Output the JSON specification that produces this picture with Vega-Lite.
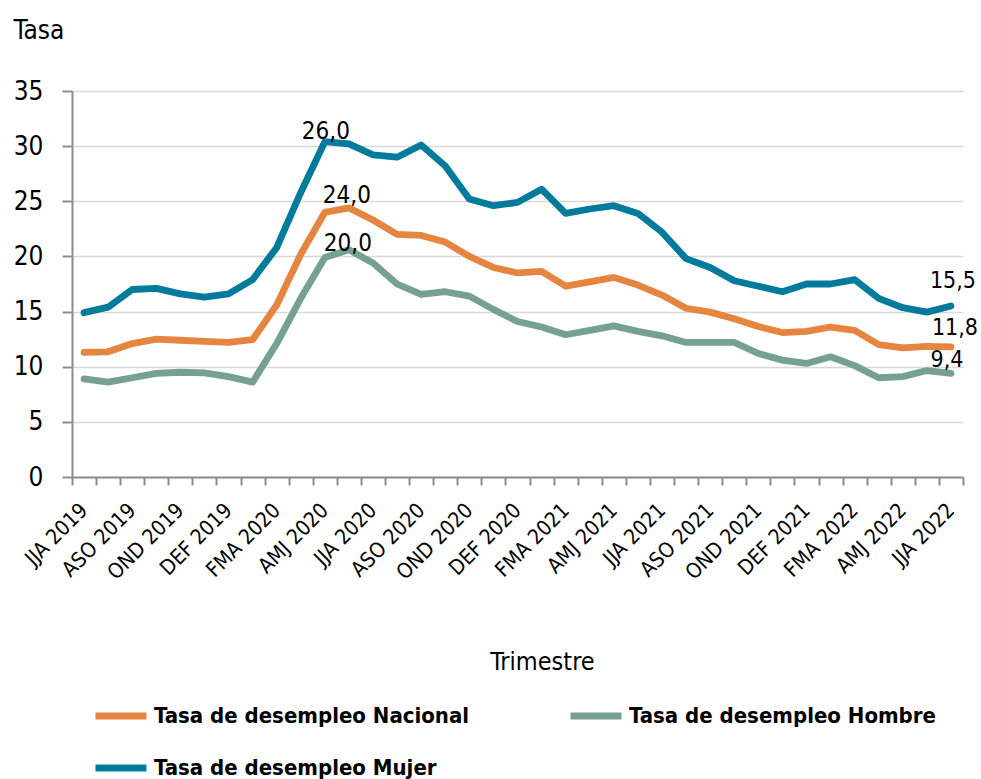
{
  "$schema": "https://vega.github.io/schema/vega-lite/v6.json",
  "width": 891,
  "height": 386,
  "autosize": {"type": "none"},
  "padding": {"left": 72, "top": 91, "right": 18, "bottom": 302},
  "background": "white",
  "config": {
    "view": {"stroke": null},
    "font": "Liberation Sans Narrow, DejaVu Sans Condensed, Liberation Sans, sans-serif"
  },
  "data": {
    "values": [
      {"t": "JJA 2019", "serie": "Tasa de desempleo Nacional", "v": 11.3},
      {"t": "JAS 2019", "serie": "Tasa de desempleo Nacional", "v": 11.35},
      {"t": "ASO 2019", "serie": "Tasa de desempleo Nacional", "v": 12.1},
      {"t": "SON 2019", "serie": "Tasa de desempleo Nacional", "v": 12.5},
      {"t": "OND 2019", "serie": "Tasa de desempleo Nacional", "v": 12.4},
      {"t": "NDE 2019", "serie": "Tasa de desempleo Nacional", "v": 12.3},
      {"t": "DEF 2019", "serie": "Tasa de desempleo Nacional", "v": 12.2},
      {"t": "EFM 2020", "serie": "Tasa de desempleo Nacional", "v": 12.45},
      {"t": "FMA 2020", "serie": "Tasa de desempleo Nacional", "v": 15.6},
      {"t": "MAM 2020", "serie": "Tasa de desempleo Nacional", "v": 20.2},
      {"t": "AMJ 2020", "serie": "Tasa de desempleo Nacional", "v": 24.0, "label": "24,0"},
      {"t": "MJJ 2020", "serie": "Tasa de desempleo Nacional", "v": 24.4},
      {"t": "JJA 2020", "serie": "Tasa de desempleo Nacional", "v": 23.3},
      {"t": "JAS 2020", "serie": "Tasa de desempleo Nacional", "v": 22.0},
      {"t": "ASO 2020", "serie": "Tasa de desempleo Nacional", "v": 21.9},
      {"t": "SON 2020", "serie": "Tasa de desempleo Nacional", "v": 21.3},
      {"t": "OND 2020", "serie": "Tasa de desempleo Nacional", "v": 20.0},
      {"t": "NDE 2020", "serie": "Tasa de desempleo Nacional", "v": 19.0},
      {"t": "DEF 2020", "serie": "Tasa de desempleo Nacional", "v": 18.5},
      {"t": "EFM 2021", "serie": "Tasa de desempleo Nacional", "v": 18.65},
      {"t": "FMA 2021", "serie": "Tasa de desempleo Nacional", "v": 17.3},
      {"t": "MAM 2021", "serie": "Tasa de desempleo Nacional", "v": 17.7},
      {"t": "AMJ 2021", "serie": "Tasa de desempleo Nacional", "v": 18.1},
      {"t": "MJJ 2021", "serie": "Tasa de desempleo Nacional", "v": 17.4},
      {"t": "JJA 2021", "serie": "Tasa de desempleo Nacional", "v": 16.5},
      {"t": "JAS 2021", "serie": "Tasa de desempleo Nacional", "v": 15.3},
      {"t": "ASO 2021", "serie": "Tasa de desempleo Nacional", "v": 14.95},
      {"t": "SON 2021", "serie": "Tasa de desempleo Nacional", "v": 14.35},
      {"t": "OND 2021", "serie": "Tasa de desempleo Nacional", "v": 13.65},
      {"t": "NDE 2021", "serie": "Tasa de desempleo Nacional", "v": 13.1},
      {"t": "DEF 2021", "serie": "Tasa de desempleo Nacional", "v": 13.2},
      {"t": "EFM 2022", "serie": "Tasa de desempleo Nacional", "v": 13.6},
      {"t": "FMA 2022", "serie": "Tasa de desempleo Nacional", "v": 13.3},
      {"t": "MAM 2022", "serie": "Tasa de desempleo Nacional", "v": 12.0},
      {"t": "AMJ 2022", "serie": "Tasa de desempleo Nacional", "v": 11.7},
      {"t": "MJJ 2022", "serie": "Tasa de desempleo Nacional", "v": 11.85},
      {"t": "JJA 2022", "serie": "Tasa de desempleo Nacional", "v": 11.8, "label": "11,8"},
      {"t": "JJA 2019", "serie": "Tasa de desempleo Hombre", "v": 8.9},
      {"t": "JAS 2019", "serie": "Tasa de desempleo Hombre", "v": 8.6},
      {"t": "ASO 2019", "serie": "Tasa de desempleo Hombre", "v": 9.0},
      {"t": "SON 2019", "serie": "Tasa de desempleo Hombre", "v": 9.4},
      {"t": "OND 2019", "serie": "Tasa de desempleo Hombre", "v": 9.5},
      {"t": "NDE 2019", "serie": "Tasa de desempleo Hombre", "v": 9.45},
      {"t": "DEF 2019", "serie": "Tasa de desempleo Hombre", "v": 9.1},
      {"t": "EFM 2020", "serie": "Tasa de desempleo Hombre", "v": 8.6},
      {"t": "FMA 2020", "serie": "Tasa de desempleo Hombre", "v": 12.1},
      {"t": "MAM 2020", "serie": "Tasa de desempleo Hombre", "v": 16.2},
      {"t": "AMJ 2020", "serie": "Tasa de desempleo Hombre", "v": 19.9, "label": "20,0"},
      {"t": "MJJ 2020", "serie": "Tasa de desempleo Hombre", "v": 20.6},
      {"t": "JJA 2020", "serie": "Tasa de desempleo Hombre", "v": 19.4},
      {"t": "JAS 2020", "serie": "Tasa de desempleo Hombre", "v": 17.5},
      {"t": "ASO 2020", "serie": "Tasa de desempleo Hombre", "v": 16.55},
      {"t": "SON 2020", "serie": "Tasa de desempleo Hombre", "v": 16.8},
      {"t": "OND 2020", "serie": "Tasa de desempleo Hombre", "v": 16.4},
      {"t": "NDE 2020", "serie": "Tasa de desempleo Hombre", "v": 15.2},
      {"t": "DEF 2020", "serie": "Tasa de desempleo Hombre", "v": 14.1},
      {"t": "EFM 2021", "serie": "Tasa de desempleo Hombre", "v": 13.6},
      {"t": "FMA 2021", "serie": "Tasa de desempleo Hombre", "v": 12.9},
      {"t": "MAM 2021", "serie": "Tasa de desempleo Hombre", "v": 13.3},
      {"t": "AMJ 2021", "serie": "Tasa de desempleo Hombre", "v": 13.7},
      {"t": "MJJ 2021", "serie": "Tasa de desempleo Hombre", "v": 13.2},
      {"t": "JJA 2021", "serie": "Tasa de desempleo Hombre", "v": 12.8},
      {"t": "JAS 2021", "serie": "Tasa de desempleo Hombre", "v": 12.2},
      {"t": "ASO 2021", "serie": "Tasa de desempleo Hombre", "v": 12.2},
      {"t": "SON 2021", "serie": "Tasa de desempleo Hombre", "v": 12.2},
      {"t": "OND 2021", "serie": "Tasa de desempleo Hombre", "v": 11.2},
      {"t": "NDE 2021", "serie": "Tasa de desempleo Hombre", "v": 10.6},
      {"t": "DEF 2021", "serie": "Tasa de desempleo Hombre", "v": 10.3},
      {"t": "EFM 2022", "serie": "Tasa de desempleo Hombre", "v": 10.9},
      {"t": "FMA 2022", "serie": "Tasa de desempleo Hombre", "v": 10.1},
      {"t": "MAM 2022", "serie": "Tasa de desempleo Hombre", "v": 9.0},
      {"t": "AMJ 2022", "serie": "Tasa de desempleo Hombre", "v": 9.1},
      {"t": "MJJ 2022", "serie": "Tasa de desempleo Hombre", "v": 9.65},
      {"t": "JJA 2022", "serie": "Tasa de desempleo Hombre", "v": 9.4, "label": "9,4"},
      {"t": "JJA 2019", "serie": "Tasa de desempleo Mujer", "v": 14.9},
      {"t": "JAS 2019", "serie": "Tasa de desempleo Mujer", "v": 15.4},
      {"t": "ASO 2019", "serie": "Tasa de desempleo Mujer", "v": 17.0},
      {"t": "SON 2019", "serie": "Tasa de desempleo Mujer", "v": 17.1},
      {"t": "OND 2019", "serie": "Tasa de desempleo Mujer", "v": 16.6},
      {"t": "NDE 2019", "serie": "Tasa de desempleo Mujer", "v": 16.3},
      {"t": "DEF 2019", "serie": "Tasa de desempleo Mujer", "v": 16.6},
      {"t": "EFM 2020", "serie": "Tasa de desempleo Mujer", "v": 17.9},
      {"t": "FMA 2020", "serie": "Tasa de desempleo Mujer", "v": 20.8},
      {"t": "MAM 2020", "serie": "Tasa de desempleo Mujer", "v": 25.8},
      {"t": "AMJ 2020", "serie": "Tasa de desempleo Mujer", "v": 30.4, "label": "26,0"},
      {"t": "MJJ 2020", "serie": "Tasa de desempleo Mujer", "v": 30.2},
      {"t": "JJA 2020", "serie": "Tasa de desempleo Mujer", "v": 29.2},
      {"t": "JAS 2020", "serie": "Tasa de desempleo Mujer", "v": 29.0},
      {"t": "ASO 2020", "serie": "Tasa de desempleo Mujer", "v": 30.1},
      {"t": "SON 2020", "serie": "Tasa de desempleo Mujer", "v": 28.2},
      {"t": "OND 2020", "serie": "Tasa de desempleo Mujer", "v": 25.2},
      {"t": "NDE 2020", "serie": "Tasa de desempleo Mujer", "v": 24.6},
      {"t": "DEF 2020", "serie": "Tasa de desempleo Mujer", "v": 24.9},
      {"t": "EFM 2021", "serie": "Tasa de desempleo Mujer", "v": 26.1},
      {"t": "FMA 2021", "serie": "Tasa de desempleo Mujer", "v": 23.9},
      {"t": "MAM 2021", "serie": "Tasa de desempleo Mujer", "v": 24.3},
      {"t": "AMJ 2021", "serie": "Tasa de desempleo Mujer", "v": 24.6},
      {"t": "MJJ 2021", "serie": "Tasa de desempleo Mujer", "v": 23.9},
      {"t": "JJA 2021", "serie": "Tasa de desempleo Mujer", "v": 22.2},
      {"t": "JAS 2021", "serie": "Tasa de desempleo Mujer", "v": 19.8},
      {"t": "ASO 2021", "serie": "Tasa de desempleo Mujer", "v": 19.0},
      {"t": "SON 2021", "serie": "Tasa de desempleo Mujer", "v": 17.8},
      {"t": "OND 2021", "serie": "Tasa de desempleo Mujer", "v": 17.3},
      {"t": "NDE 2021", "serie": "Tasa de desempleo Mujer", "v": 16.8},
      {"t": "DEF 2021", "serie": "Tasa de desempleo Mujer", "v": 17.5},
      {"t": "EFM 2022", "serie": "Tasa de desempleo Mujer", "v": 17.5},
      {"t": "FMA 2022", "serie": "Tasa de desempleo Mujer", "v": 17.9},
      {"t": "MAM 2022", "serie": "Tasa de desempleo Mujer", "v": 16.2},
      {"t": "AMJ 2022", "serie": "Tasa de desempleo Mujer", "v": 15.35},
      {"t": "MJJ 2022", "serie": "Tasa de desempleo Mujer", "v": 14.95},
      {"t": "JJA 2022", "serie": "Tasa de desempleo Mujer", "v": 15.5, "label": "15,5"}
    ]
  },
  "encoding": {
    "x": {
      "field": "t",
      "type": "ordinal",
      "scale": {
        "type": "band",
        "paddingInner": 0,
        "paddingOuter": 0,
        "domain": ["JJA 2019","JAS 2019","ASO 2019","SON 2019","OND 2019","NDE 2019","DEF 2019","EFM 2020","FMA 2020","MAM 2020","AMJ 2020","MJJ 2020","JJA 2020","JAS 2020","ASO 2020","SON 2020","OND 2020","NDE 2020","DEF 2020","EFM 2021","FMA 2021","MAM 2021","AMJ 2021","MJJ 2021","JJA 2021","JAS 2021","ASO 2021","SON 2021","OND 2021","NDE 2021","DEF 2021","EFM 2022","FMA 2022","MAM 2022","AMJ 2022","MJJ 2022","JJA 2022"]
      },
      "axis": {
        "title": "Trimestre",
        "titleFontSize": 25,
        "titleFontWeight": "normal",
        "titleColor": "#000000",
        "titleX": 470,
        "titleY": 192,
        "titleAlign": "center",
        "titleBaseline": "alphabetic",
        "labelExpr": "test(/^(JJA|ASO|OND|DEF|FMA|AMJ)/, datum.value) ? datum.value : ''",
        "labelAngle": -45,
        "labelAlign": "right",
        "labelBaseline": "middle",
        "labelFontSize": 21,
        "labelColor": "#000000",
        "labelPadding": 22,
        "labelOverlap": false,
        "labelBound": false,
        "tickBand": "extent",
        "tickSize": 8,
        "tickWidth": 2,
        "tickColor": "#8c8c8c",
        "domainColor": "#8c8c8c",
        "domainWidth": 2,
        "grid": false
      }
    },
    "y": {
      "field": "v",
      "type": "quantitative",
      "scale": {"domain": [0, 35], "nice": false},
      "axis": {
        "title": "Tasa",
        "titleAngle": 0,
        "titleX": -59,
        "titleY": -53,
        "titleAlign": "left",
        "titleBaseline": "alphabetic",
        "titleFontSize": 26,
        "titleFontWeight": "normal",
        "titleColor": "#000000",
        "values": [0, 5, 10, 15, 20, 25, 30, 35],
        "labelFontSize": 26,
        "labelColor": "#000000",
        "labelPadding": 19,
        "tickSize": 10,
        "tickWidth": 2,
        "tickColor": "#8c8c8c",
        "domainColor": "#8c8c8c",
        "domainWidth": 2,
        "grid": true,
        "gridColor": "#d9d9d9",
        "gridWidth": 1.5
      }
    }
  },
  "layer": [
    {
      "mark": {"type": "line", "strokeWidth": 6.8, "strokeCap": "round", "strokeJoin": "round"},
      "encoding": {
        "color": {
          "field": "serie",
          "type": "nominal",
          "scale": {
            "domain": ["Tasa de desempleo Nacional", "Tasa de desempleo Hombre", "Tasa de desempleo Mujer"],
            "range": ["#E5853F", "#76A091", "#017B9B"]
          },
          "legend": {
            "title": null,
            "orient": "none",
            "legendX": 20,
            "legendY": 596,
            "direction": "horizontal",
            "columns": 2,
            "columnPadding": 86,
            "rowPadding": 9,
            "symbolType": "stroke",
            "symbolSize": 2601,
            "symbolStrokeWidth": 7,
            "labelFontSize": 22,
            "labelFontWeight": "bold",
            "labelColor": "#000000",
            "labelOffset": 4,
            "labelLimit": 0,
            "padding": 0
          }
        }
      }
    },
    {
      "transform": [{"filter": "datum.label == '26,0'"}],
      "mark": {"type": "text", "fontSize": 24, "color": "#000000", "align": "center", "baseline": "alphabetic", "dx": 1, "dy": -3},
      "encoding": {"text": {"field": "label"}}
    },
    {
      "transform": [{"filter": "datum.label == '24,0'"}],
      "mark": {"type": "text", "fontSize": 24, "color": "#000000", "align": "center", "baseline": "alphabetic", "dx": 22, "dy": -9},
      "encoding": {"text": {"field": "label"}}
    },
    {
      "transform": [{"filter": "datum.label == '20,0'"}],
      "mark": {"type": "text", "fontSize": 24, "color": "#000000", "align": "center", "baseline": "alphabetic", "dx": 23, "dy": -7},
      "encoding": {"text": {"field": "label"}}
    },
    {
      "transform": [{"filter": "datum.label == '15,5'"}],
      "mark": {"type": "text", "fontSize": 23, "color": "#000000", "align": "center", "baseline": "alphabetic", "dx": 2, "dy": -18},
      "encoding": {"text": {"field": "label"}}
    },
    {
      "transform": [{"filter": "datum.label == '11,8'"}],
      "mark": {"type": "text", "fontSize": 23, "color": "#000000", "align": "center", "baseline": "alphabetic", "dx": 4, "dy": -12},
      "encoding": {"text": {"field": "label"}}
    },
    {
      "transform": [{"filter": "datum.label == '9,4'"}],
      "mark": {"type": "text", "fontSize": 23, "color": "#000000", "align": "center", "baseline": "alphabetic", "dx": -4, "dy": -6},
      "encoding": {"text": {"field": "label"}}
    }
  ]
}
